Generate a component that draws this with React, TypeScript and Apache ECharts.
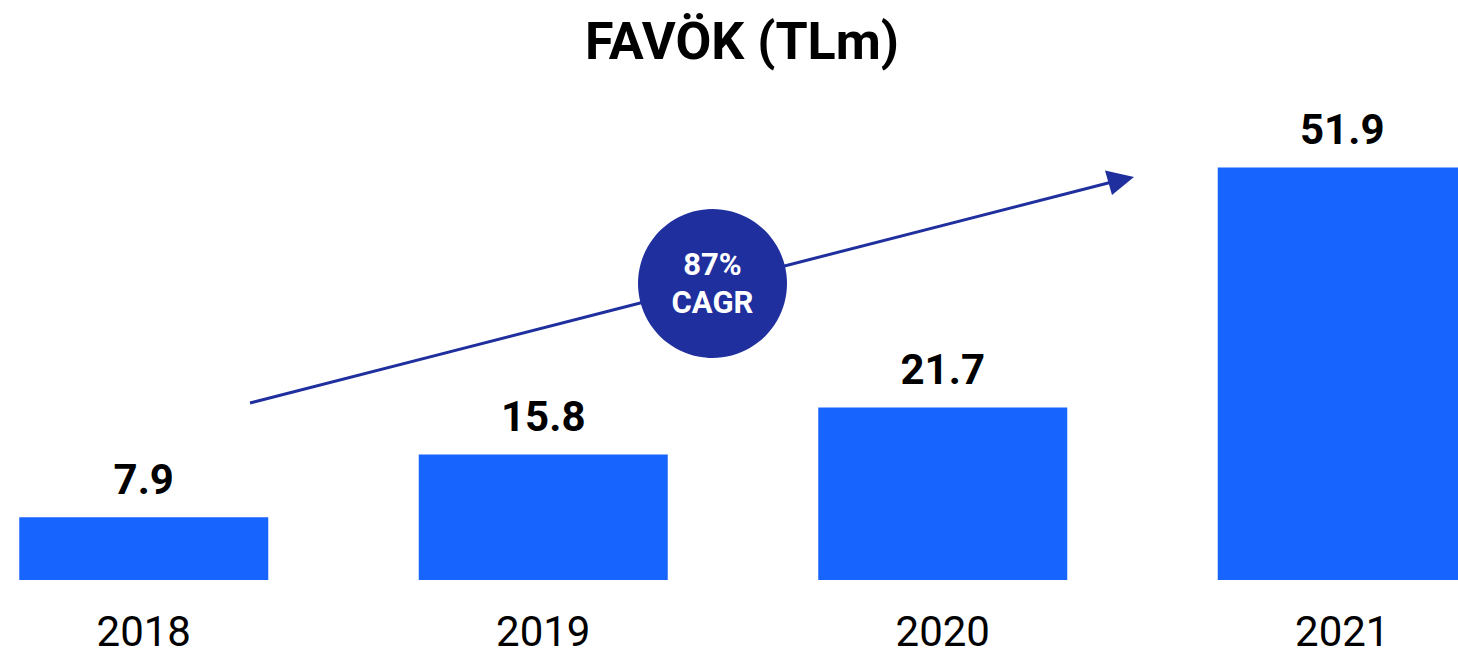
import React, { useEffect, useRef } from "react";
import * as echarts from "echarts";

const categories = ["2018", "2019", "2020", "2021"];
const values = [7.9, 15.8, 21.7, 51.9];
const titleText = "FAVÖK (TLm)";
const cagrLines = ["87%", "CAGR"];

// The chart area extends beyond the visible page on both sides
const OFFSET_LEFT = 56;
const CHART_WIDTH = 1598;

export default function App() {
  const ref = useRef<HTMLDivElement>(null);
  useEffect(() => {
    if (!ref.current) return;
    const chart = echarts.init(ref.current, null, { renderer: "svg" });
    const ox = OFFSET_LEFT;
    chart.setOption({
      animation: false,
      title: {
        text: titleText,
        left: 580 + ox,
        top: 10,
        textStyle: { fontFamily: "Roboto", fontWeight: "bold", fontSize: 52, color: "#000" },
      },
      grid: { left: 0, right: 0, top: 103, bottom: 78, containLabel: false },
      xAxis: {
        type: "category",
        data: categories,
        axisLine: { show: false },
        axisTick: { show: false },
        axisLabel: { fontFamily: "Roboto", fontSize: 42, color: "#000", margin: 30 },
      },
      yAxis: {
        type: "value",
        min: 0,
        max: 60,
        show: false,
        splitLine: { show: false },
      },
      series: [
        {
          type: "bar",
          data: values,
          barWidth: 249,
          itemStyle: { color: "#1764ff" },
          label: {
            show: true,
            position: "top",
            distance: 17,
            fontFamily: "Roboto",
            fontWeight: "bold",
            fontSize: 42,
            color: "#000",
          },
        },
      ],
      graphic: [
        {
          type: "line",
          shape: { x1: 250 + ox, y1: 403, x2: 1112 + ox, y2: 182 },
          style: { stroke: "#1f2f9e", lineWidth: 3 },
        },
        {
          type: "polygon",
          shape: { points: [[1134 + ox, 177], [1105 + ox, 170.5], [1112 + ox, 195]] },
          style: { fill: "#1f2f9e" },
        },
        {
          type: "circle",
          shape: { cx: 712.5 + ox, cy: 283.5, r: 74.5 },
          style: { fill: "#1f2f9e" },
        },
        {
          type: "text",
          x: 712.5 + ox,
          y: 264,
          style: {
            text: cagrLines[0],
            fill: "#fff",
            font: "bold 31px Roboto",
            align: "center",
            verticalAlign: "middle",
          },
        },
        {
          type: "text",
          x: 712.5 + ox,
          y: 302,
          style: {
            text: cagrLines[1],
            fill: "#fff",
            font: "bold 31px Roboto",
            align: "center",
            verticalAlign: "middle",
          },
        },
      ],
    });
    return () => chart.dispose();
  }, []);
  return (
    <div
      ref={ref}
      style={{
        position: "fixed",
        left: -OFFSET_LEFT,
        top: 0,
        width: CHART_WIDTH,
        height: 658,
        background: "#fff",
      }}
    />
  );
}
